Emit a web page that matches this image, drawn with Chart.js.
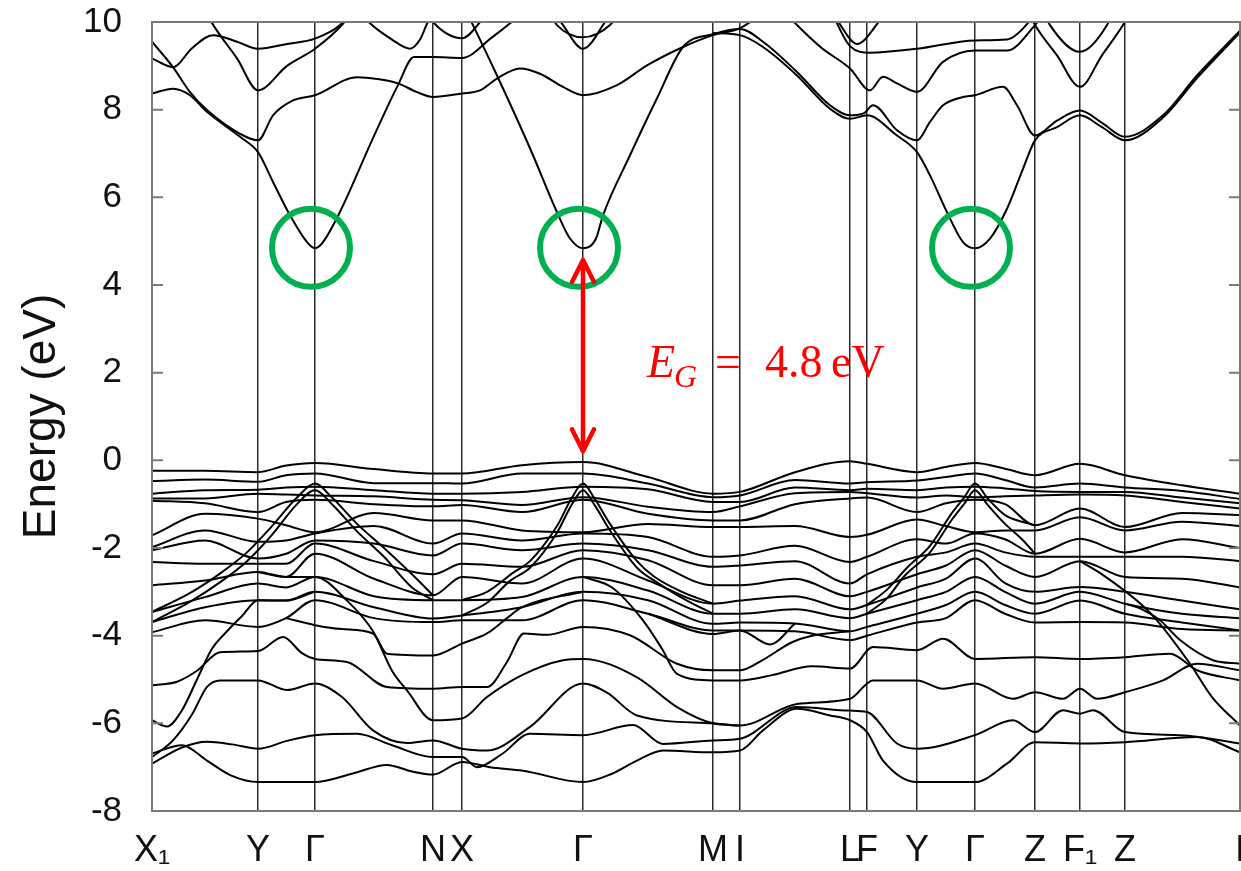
<!DOCTYPE html>
<html>
<head>
<meta charset="utf-8">
<title>Band structure</title>
<script src="https://cdn.jsdelivr.net/npm/chart.js@4.4.1/dist/chart.umd.min.js"></script>
<style>
  html, body { margin: 0; padding: 0; background: #fff; }
  #wrap { width: 1241px; height: 871px; }
</style>
</head>
<body>
<div id="wrap"><canvas id="bands" width="1241" height="871"></canvas></div>
<script>
// high-symmetry points along the k-path
const kLabels = ['X₁', 'Y', 'Γ', 'N', 'X', 'Γ', 'M', 'I', 'L', 'F', 'Y', 'Γ', 'Z', 'F₁', 'Z', 'I'];
const kTicks = [0, 106, 163, 281, 310, 431, 561, 588, 698, 715, 765, 823, 883, 928, 973, 1088];
const eTicks = [10, 8, 6, 4, 2, 0, -2, -4, -6, -8];
const gammaPoints = [163, 431, 823];

const bandGap = 4.8;   // eV
const vbm = 0;         // valence band maximum

// k grid for the upper valence manifold
const kGrid = [0, 53, 106, 134, 163, 222, 281, 310, 370, 431, 496, 561, 588,
               643, 698, 715, 765, 794, 823, 853, 883, 928, 973, 1030, 1088];

// upper valence bands (eV) on kGrid
const vb01 = [-0.24, -0.24, -0.27, -0.12, -0.06, -0.2, -0.30, -0.30, -0.11, -0.04, -0.38, -0.76, -0.72, -0.27, -0.02, -0.08, -0.27, -0.15, -0.06, -0.19, -0.34, -0.08, -0.34, -0.57, -0.76];
const vb02 = [-0.47, -0.44, -0.49, -0.34, -0.30, -0.52, -0.52, -0.53, -0.30, -0.30, -0.53, -0.84, -0.8, -0.45, -0.53, -0.5, -0.46, -0.38, -0.30, -0.45, -0.62, -0.53, -0.62, -0.7, -0.88];
const vb03 = [-0.76, -0.68, -0.67, -0.62, -0.6, -0.68, -0.76, -0.76, -0.72, -0.6, -0.66, -0.95, -0.95, -0.62, -0.68, -0.65, -0.68, -0.62, -0.6, -0.64, -0.7, -0.72, -0.72, -0.85, -0.98];
const vb04 = [-0.87, -0.87, -0.76, -0.78, -0.8, -0.82, -0.9, -0.91, -1.02, -0.84, -1.06, -1.18, -1.05, -0.75, -0.72, -0.75, -0.85, -0.8, -0.84, -0.82, -0.8, -0.78, -0.8, -0.95, -1.1];
const vb05 = [-0.92, -0.98, -1.18, -0.95, -0.9, -1.0, -1.05, -1.02, -1.18, -0.9, -1.22, -1.37, -1.37, -1.0, -0.87, -0.85, -1.18, -0.98, -0.9, -1.0, -1.48, -1.1, -1.52, -1.2, -1.25];
const vb06 = [-1.71, -1.22, -1.33, -1.48, -1.64, -1.2, -1.37, -1.37, -1.6, -1.64, -1.45, -1.52, -1.52, -1.5, -1.75, -1.7, -1.35, -1.5, -1.64, -1.6, -1.6, -1.3, -1.6, -1.4, -1.5];
const vb07 = [-1.98, -1.6, -1.86, -1.83, -1.67, -1.5, -1.9, -1.67, -1.83, -1.67, -1.75, -2.2, -2.17, -1.95, -2.32, -2.2, -1.8, -1.9, -1.67, -1.8, -2.13, -1.79, -2.1, -1.8, -2.0];
const vb08 = [-2.05, -1.83, -2.24, -2.13, -1.83, -1.9, -2.17, -1.9, -2.05, -1.9, -2.05, -2.43, -2.4, -2.3, -2.81, -2.6, -2.2, -2.1, -1.9, -2.1, -2.2, -2.2, -2.2, -2.2, -2.3];
const vb09 = [-2.32, -2.36, -2.36, -2.36, -1.9, -2.3, -2.6, -2.36, -2.43, -2.05, -2.28, -2.85, -2.85, -2.7, -3.1, -3.0, -2.6, -2.4, -2.05, -2.4, -2.66, -2.3, -2.66, -2.7, -2.9];
const vb10 = [-2.85, -2.74, -2.55, -2.66, -2.13, -2.7, -3.08, -2.66, -2.81, -2.24, -2.74, -3.27, -3.2, -3.1, -3.4, -3.3, -2.9, -2.7, -2.24, -2.8, -3.0, -2.89, -3.0, -3.2, -3.4];
const vb11 = [-3.46, -3.12, -2.81, -2.9, -2.66, -3.1, -3.19, -3.19, -3.12, -2.66, -2.97, -3.5, -3.5, -3.4, -3.6, -3.5, -3.19, -3.0, -2.66, -3.0, -3.27, -3.0, -3.27, -3.5, -3.6];
const vb12 = [-3.69, -3.35, -3.19, -3.2, -3.0, -3.35, -3.61, -3.54, -3.35, -3.0, -3.19, -3.73, -3.7, -3.72, -3.9, -3.8, -3.5, -3.3, -3.0, -3.3, -3.5, -3.2, -3.5, -3.7, -3.88];
const vb13 = [-3.92, -3.65, -3.8, -3.6, -3.19, -3.6, -3.69, -3.65, -3.65, -3.19, -3.5, -3.88, -3.88, -3.9, -4.1, -4.0, -3.7, -3.6, -3.19, -3.5, -3.7, -3.69, -3.7, -3.85, -3.88];

// steep pairs peaking at the Γ points
const pk1a = [[0, -3.46], [40, -3.0], [70, -2.55], [95, -2.1], [120, -1.5], [145, -0.85], [163, -0.53], [180, -0.85], [205, -1.45], [232, -2.0], [260, -2.6], [281, -3.08]];
const pk1b = [[0, -3.69], [40, -3.2], [70, -2.75], [95, -2.3], [120, -1.7], [145, -1.0], [163, -0.68], [180, -1.0], [205, -1.62], [232, -2.2], [260, -2.9], [281, -3.19]];
const pk2a = [[310, -3.19], [335, -3.0], [362, -2.55], [378, -2.3], [405, -1.5], [420, -0.85], [431, -0.53], [442, -0.85], [458, -1.45], [485, -2.3], [502, -2.65], [530, -3.0], [561, -3.27]];
const pk2b = [[310, -3.54], [335, -3.25], [358, -2.75], [378, -2.45], [405, -1.65], [420, -1.0], [431, -0.68], [442, -1.0], [458, -1.6], [485, -2.45], [506, -2.8], [535, -3.2], [561, -3.5]];
const pk3a = [[715, -3.3], [735, -2.95], [755, -2.45], [778, -1.95], [800, -1.2], [812, -0.85], [823, -0.53], [835, -0.85], [853, -1.25], [870, -1.4], [883, -1.48]];
const pk3b = [[715, -3.5], [735, -3.15], [752, -2.65], [778, -2.1], [800, -1.35], [812, -1.0], [823, -0.68], [835, -1.0], [853, -1.45], [870, -1.8], [883, -2.13]];

// conduction bands, [k, E] pairs
const cb01 = [[0, 8.37], [21, 8.48], [38, 8.33], [55, 7.95], [88, 7.38], [106, 7.03], [121, 6.35], [138, 5.59], [155, 4.98], [163, 4.84], [171, 4.98], [188, 5.67], [221, 7.35], [246, 8.56], [262, 9.2], [281, 9.2], [310, 9.18], [340, 9.65], [365, 10.1], [380, 10.4]];
const cb02 = [[300, 10.9], [321, 9.93], [345, 8.78], [378, 7.12], [405, 5.66], [418, 5.06], [431, 4.84], [444, 5.06], [451, 5.59], [478, 6.96], [505, 8.26], [531, 9.43], [561, 9.72], [588, 9.84], [611, 9.55], [645, 8.86], [678, 8.1], [698, 7.87], [712, 7.92], [721, 8.1], [745, 7.53], [765, 7.3], [778, 7.72], [791, 8.1], [811, 8.29], [823, 8.33], [851, 8.52], [865, 8.1], [883, 7.41], [905, 7.75], [928, 7.98], [950, 7.7], [973, 7.38], [1011, 7.87], [1045, 8.78], [1088, 9.8]];
const cb03 = [[561, 9.75], [588, 9.7], [611, 9.43], [645, 8.78], [678, 8.02], [698, 7.79], [715, 7.87], [745, 7.41], [765, 7.03], [778, 6.5], [795, 5.66], [811, 4.98], [823, 4.84], [838, 5.06], [855, 5.74], [871, 6.65], [883, 7.3], [905, 7.6], [928, 7.87], [950, 7.6], [973, 7.3], [1011, 7.82], [1045, 8.72], [1088, 9.76]];
const cb04 = [[0, 9.55], [21, 8.97], [38, 8.4], [55, 7.99], [88, 7.45], [106, 7.3], [121, 7.87], [140, 8.2], [163, 8.33], [205, 8.74], [225, 8.7], [246, 8.6], [265, 8.4], [281, 8.29], [310, 8.37], [328, 8.44], [345, 8.71], [368, 8.94], [388, 8.82], [411, 8.52], [431, 8.33], [465, 8.56], [495, 9.01], [531, 9.43], [561, 9.7], [588, 9.86], [610, 10.2], [625, 10.5]];
const cb05 = [[0, 9.17], [21, 8.97], [40, 9.4], [61, 9.7], [85, 9.55], [106, 9.39], [135, 9.5], [163, 9.62], [188, 9.93], [205, 10.4]];
const cb06 = [[50, 10.4], [61, 9.94], [85, 9.17], [106, 8.44], [135, 9.0], [163, 9.39], [191, 9.96], [205, 10.4]];
const cb07 = [[205, 10.3], [218, 9.97], [240, 9.6], [258, 9.39], [268, 9.6], [275, 9.96], [285, 10.4]];
const cb08 = [[270, 10.4], [281, 10.0], [310, 9.63], [328, 10.0], [340, 10.4]];
const cb09 = [[395, 10.3], [405, 9.93], [431, 9.65], [458, 9.93], [470, 10.3]];
const cb10 = [[400, 10.3], [411, 9.93], [431, 9.39], [451, 9.93], [460, 10.3]];
const cb11 = [[630, 10.3], [645, 9.93], [670, 9.4], [698, 8.94], [718, 8.44], [731, 8.75], [745, 8.6], [765, 8.41], [791, 9.09], [823, 9.35], [855, 9.35], [883, 9.93], [895, 10.3]];
const cb12 = [[680, 10.2], [698, 9.45], [718, 9.3], [765, 9.39], [823, 9.58], [855, 9.6], [875, 9.95], [885, 10.3]];
const cb13 = [[680, 10.3], [688, 9.95], [705, 9.5], [725, 9.95], [735, 10.3]];
const cb14 = [[875, 10.3], [883, 9.93], [905, 9.24], [928, 8.52], [950, 9.24], [971, 9.93], [980, 10.3]];
const cb15 = [[890, 10.3], [898, 9.93], [928, 9.32], [955, 9.93], [962, 10.3]];

// lower valence bands, [k, E] pairs
const lv01 = [[0, -6.69], [30, -6.5], [55, -6.85], [80, -7.2], [106, -7.34], [163, -7.34], [200, -7.15], [235, -6.95], [260, -7.1], [281, -7.17], [310, -6.88], [338, -7.0], [371, -7.08], [431, -7.34], [460, -7.15], [485, -6.85], [511, -6.62], [561, -6.66], [588, -6.62], [611, -6.16], [645, -5.67], [678, -5.82], [698, -5.93], [715, -6.2], [731, -6.85], [765, -7.34], [823, -7.34], [855, -6.92], [883, -6.43], [928, -6.46], [973, -6.43], [1045, -6.31], [1088, -6.66]];
const lv02 = [[0, -6.92], [30, -6.55], [55, -6.42], [80, -6.48], [106, -6.58], [135, -6.4], [163, -6.27], [205, -6.24], [240, -6.5], [281, -6.77], [310, -6.77], [325, -7.0], [350, -6.7], [378, -6.24], [431, -6.27], [481, -6.04], [511, -6.47], [561, -6.39], [588, -6.35], [645, -5.63], [698, -5.71], [715, -5.74], [745, -6.46], [765, -6.58], [823, -6.27], [861, -5.93], [883, -6.2], [911, -5.7], [928, -5.78], [941, -5.7], [973, -6.2], [1028, -6.27], [1088, -6.46]];
const lv03 = [[0, -6.77], [21, -6.39], [40, -5.8], [55, -5.17], [68, -5.02], [106, -5.02], [135, -5.24], [163, -5.09], [190, -5.4], [221, -6.16], [255, -6.45], [281, -6.39], [310, -6.58], [335, -6.62], [378, -6.08], [431, -5.09], [455, -5.3], [485, -5.82], [561, -6.0], [588, -6.05], [645, -5.56], [698, -5.44], [721, -5.02], [765, -5.02], [791, -5.21], [823, -5.09], [861, -5.44], [883, -5.29], [911, -5.44], [928, -5.21], [945, -5.44], [973, -5.29], [1011, -5.02], [1045, -4.64], [1088, -4.79]];
const lv04 = [[0, -5.13], [25, -5.05], [45, -4.8], [68, -4.38], [106, -4.35], [131, -4.03], [150, -4.4], [163, -4.53], [195, -4.6], [235, -5.17], [281, -5.21], [310, -5.17], [335, -5.17], [355, -4.6], [372, -3.95], [395, -3.98], [431, -3.8], [478, -3.99], [525, -4.64], [561, -4.79], [588, -4.79], [611, -4.55], [640, -4.15], [660, -4.0], [698, -3.9]];
const lv05 = [[0, -5.93], [15, -6.07], [30, -5.7], [45, -5.0], [60, -4.3], [75, -3.9], [90, -3.55], [106, -3.19], [134, -3.2], [163, -3.0]];
const lv06 = [[134, -3.6], [163, -3.76], [190, -3.85], [221, -3.95], [235, -4.41], [281, -4.45], [310, -4.18], [335, -3.95], [355, -3.6], [370, -3.35], [431, -3.0]];
const lv07 = [[106, -2.55], [134, -2.66], [163, -2.66], [195, -3.2], [221, -3.9], [240, -4.8], [255, -5.25], [281, -5.93], [310, -5.89], [335, -5.4], [370, -4.9], [411, -4.56], [431, -4.53], [485, -4.95], [525, -5.63], [561, -6.0], [588, -6.05]];
const lv08 = [[431, -2.66], [460, -2.9], [491, -3.65], [510, -4.3], [525, -4.87], [561, -5.02], [588, -5.02], [620, -4.9], [660, -4.7], [698, -4.75], [721, -4.26], [765, -4.33], [791, -4.07], [823, -4.53], [883, -4.49], [928, -4.53], [973, -4.49], [1018, -4.41], [1045, -4.79], [1088, -5.02]];
const lv09 = [[928, -2.3], [950, -2.6], [990, -3.3], [1005, -3.65], [1038, -4.64], [1060, -5.4], [1088, -6.05]];
const lv10 = [[973, -3.27], [990, -3.4], [1008, -3.65], [1028, -4.1], [1061, -4.56], [1088, -4.64]];
const lv11 = [[496, -3.5], [561, -3.96], [588, -3.88], [618, -4.2], [643, -3.72]];

const gridBands = [vb01, vb02, vb03, vb04, vb05, vb06, vb07, vb08, vb09, vb10, vb11, vb12, vb13];
const pairBands = [cb01, cb02, cb03, cb04, cb05, cb06, cb07, cb08, cb09, cb10, cb11, cb12, cb13, cb14, cb15,
                   pk1a, pk1b, pk2a, pk2b, pk3a, pk3b,
                   lv01, lv02, lv03, lv04, lv05, lv06, lv07, lv08, lv09, lv10, lv11];

const FONT = "'Liberation Sans', Arial, Helvetica, sans-serif";
const SERIF = "'Liberation Serif', 'Times New Roman', serif";

const datasets = [];
gridBands.forEach(b => datasets.push({ data: b.map((e, i) => ({ x: kGrid[i], y: e })) }));
pairBands.forEach(b => datasets.push({ data: b.map(p => ({ x: p[0], y: p[1] })) }));
datasets.forEach(d => { d.clip = 0; });

// plot frame + inward ticks on both sides
const frame = {
  id: 'frame',
  afterDraw(chart) {
    const { ctx, chartArea: a, scales: { y } } = chart;
    ctx.save();
    ctx.strokeStyle = '#7a7a7a';
    ctx.lineWidth = 2;
    ctx.strokeRect(a.left, a.top, a.right - a.left, a.bottom - a.top);
    ctx.beginPath();
    eTicks.forEach(v => {
      const py = y.getPixelForValue(v);
      ctx.moveTo(a.left, py); ctx.lineTo(a.left + 11, py);
      ctx.moveTo(a.right, py); ctx.lineTo(a.right - 11, py);
    });
    ctx.stroke();
    ctx.restore();
  }
};

// gap marker: rings on the Γ minima, double arrow and label
const gapNote = {
  id: 'gapNote',
  afterDatasetsDraw(chart) {
    const { ctx, scales: { x, y } } = chart;
    const cbm = vbm + bandGap;
    ctx.save();
    ctx.strokeStyle = '#00b050';
    ctx.lineWidth = 6;
    gammaPoints.forEach(k => {
      ctx.beginPath();
      ctx.arc(x.getPixelForValue(k) - 4, y.getPixelForValue(cbm + 0.05), 39, 0, Math.PI * 2);
      ctx.stroke();
    });

    const ax = x.getPixelForValue(gammaPoints[1]);
    const yTop = y.getPixelForValue(cbm) + 10;
    const yBot = y.getPixelForValue(vbm) - 9;
    ctx.strokeStyle = '#ff0000';
    ctx.lineWidth = 4.5;
    ctx.lineCap = 'round';
    ctx.lineJoin = 'round';
    ctx.beginPath();
    ctx.moveTo(ax, yTop); ctx.lineTo(ax, yBot);
    ctx.moveTo(ax - 11, yTop + 22); ctx.lineTo(ax, yTop); ctx.lineTo(ax + 11, yTop + 22);
    ctx.moveTo(ax - 11, yBot - 22); ctx.lineTo(ax, yBot); ctx.lineTo(ax + 11, yBot - 22);
    ctx.stroke();

    const x0 = ax + 64;
    const base = y.getPixelForValue(1.9);
    ctx.fillStyle = '#ff0000';
    ctx.textBaseline = 'alphabetic';
    ctx.font = 'italic 46px ' + SERIF;
    ctx.fillText('E', x0, base);
    ctx.font = 'italic 32px ' + SERIF;
    ctx.fillText('G', x0 + 27, base + 10);
    ctx.font = '46px ' + SERIF;
    ctx.fillText('=', x0 + 68, base);
    ctx.fillText(bandGap.toFixed(1), x0 + 118, base);
    ctx.fillText('eV', x0 + 184, base);
    ctx.restore();
  }
};

new Chart(document.getElementById('bands'), {
  type: 'line',
  data: { datasets },
  options: {
    responsive: false,
    animation: false,
    layout: { padding: { top: 22, right: 1, left: 0, bottom: 0 } },
    plugins: { legend: { display: false }, tooltip: { enabled: false } },
    elements: {
      point: { radius: 0 },
      line: { borderColor: '#000', borderWidth: 2, cubicInterpolationMode: 'monotone', fill: false }
    },
    scales: {
      x: {
        type: 'linear', min: 0, max: 1088,
        afterBuildTicks: s => { s.ticks = kTicks.map(v => ({ value: v })); },
        afterFit: s => { s.height = 60; s.paddingLeft = 0; s.paddingRight = 0; },
        ticks: {
          autoSkip: false, maxRotation: 0, padding: 18, color: '#111',
          font: { family: FONT, size: 36 },
          callback: (v, i) => kLabels[i]
        },
        grid: { color: '#2a2a2a', lineWidth: 1.5, drawTicks: false },
        border: { display: false }
      },
      y: {
        min: -8, max: 10,
        afterBuildTicks: s => { s.ticks = eTicks.map(v => ({ value: v })); },
        afterFit: s => { s.width = 152; s.paddingTop = 0; s.paddingBottom = 0; },
        ticks: { padding: 30, color: '#111', font: { family: FONT, size: 35 } },
        grid: { display: false, drawTicks: false },
        border: { display: false },
        title: {
          display: true, text: 'Energy (eV)', color: '#111',
          font: { family: FONT, size: 46 }, padding: { top: 15, bottom: 0 }
        }
      }
    }
  },
  plugins: [frame, gapNote]
});
</script>
</body>
</html>
